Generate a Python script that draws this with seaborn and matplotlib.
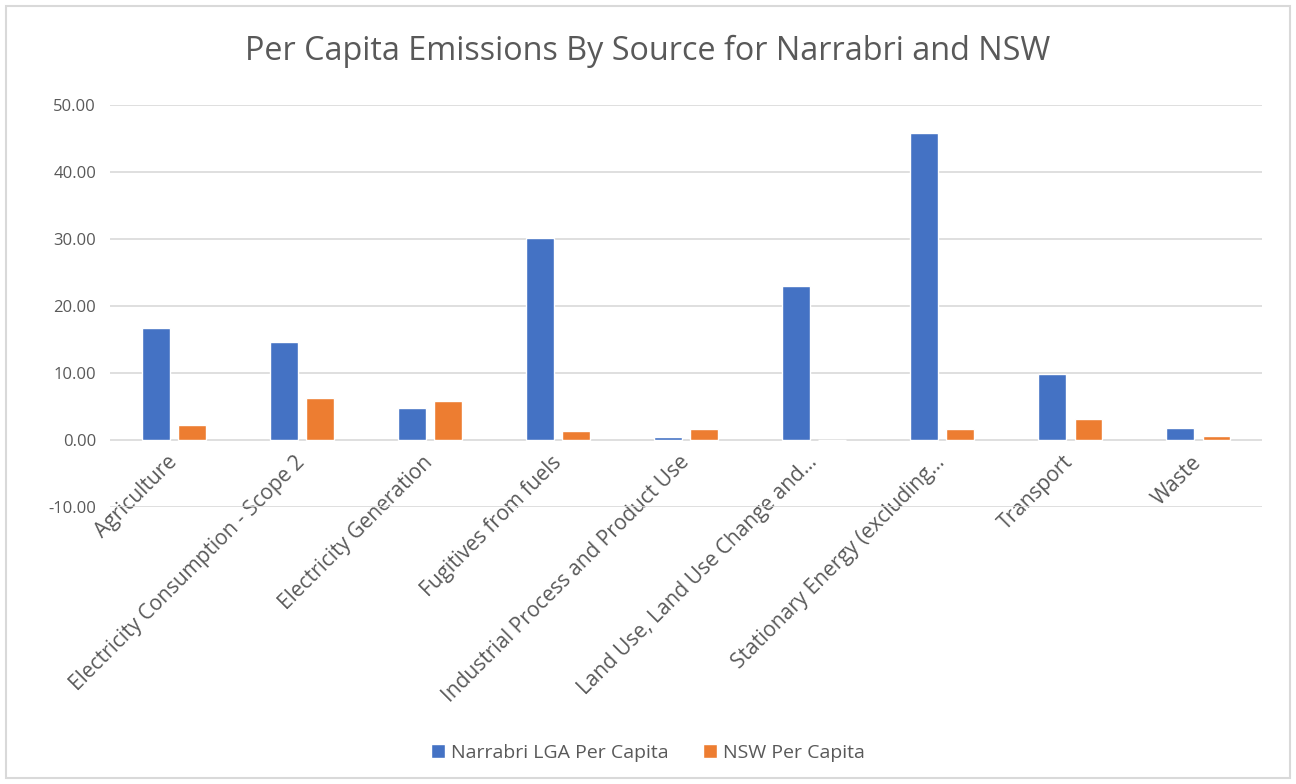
import numpy as np
import pandas as pd
import matplotlib
matplotlib.use("Agg")
import matplotlib.pyplot as plt
import matplotlib.ticker as mticker
from matplotlib.patches import Rectangle
import seaborn as sns

# ── Data ────────────────────────────────────────────────────────────────────
sources = [
    "Agriculture",
    "Electricity Consumption - Scope 2",
    "Electricity Generation",
    "Fugitives from fuels",
    "Industrial Process and Product Use",
    "Land Use, Land Use Change and...",
    "Stationary Energy (excluding...",
    "Transport",
    "Waste",
]
narrabri = [16.7, 14.6, 4.8, 30.1, 0.5, 23.0, 45.8, 9.85, 1.85]
nsw = [2.3, 6.2, 5.8, 1.35, 1.65, 0.0, 1.6, 3.1, 0.6]
series_names = ["Narrabri LGA Per Capita", "NSW Per Capita"]
yticks = [-10, 0, 10, 20, 30, 40, 50]

BLUE = "#4472C4"
ORANGE = "#ED7D31"
GRID = "#D9D9D9"
TEXT = "#595959"

sns.set_theme(style="white")
plt.rcParams["font.family"] = ["Open Sans", "DejaVu Sans"]

df = pd.DataFrame({
    "source": sources * 2,
    "value": narrabri + nsw,
    "series": [series_names[0]] * len(sources) + [series_names[1]] * len(sources),
})

fig = plt.figure(figsize=(12.96, 7.84), dpi=100)
ax = fig.add_axes([0.0849, 0.3533, 0.889, 0.5128])

sns.barplot(data=df, x="source", y="value", hue="series", order=sources,
            hue_order=series_names, palette=[BLUE, ORANGE],
            width=0.567, gap=0.24, saturation=1, legend=True, ax=ax, zorder=3)

ax.set_ylim(-10, 50)
ax.set_yticks(yticks)
ax.yaxis.set_major_formatter(mticker.FuncFormatter(lambda v, p: f"{v:.2f}"))
ax.grid(axis="y", color=GRID, linewidth=1.2, zorder=0)
ax.set_axisbelow(True)
# category axis crosses at zero, like the original spreadsheet chart
ax.spines["bottom"].set_position(("data", 0))
for s in ax.spines.values():
    s.set_visible(False)
ax.tick_params(axis="both", length=0, colors=TEXT)
ax.tick_params(axis="y", labelsize=12, pad=10)
ax.set_xlabel("")
ax.set_ylabel("")
ax.set_xticks(range(len(sources)))
ax.set_xticklabels(sources, rotation=45, ha="right", va="center",
                   rotation_mode="anchor", fontsize=15)
ax.tick_params(axis="x", pad=14)

fig.text(0.5, 0.935, "Per Capita Emissions By Source for Narrabri and NSW",
         ha="center", va="center", fontsize=23.3, color=TEXT)

leg = ax.legend(loc="center", bbox_to_anchor=(0.5, 0.04), bbox_transform=fig.transFigure,
                ncol=2, frameon=False, fontsize=14, handlelength=0.7, handleheight=0.7,
                handletextpad=0.3, columnspacing=1.8)
for t in leg.get_texts():
    t.set_color(TEXT)

fig.patches.append(Rectangle((0.005, 0.008), 0.99, 0.984, transform=fig.transFigure,
                             fill=False, edgecolor=GRID, linewidth=1.5))

fig.savefig("out.png", dpi=100)
